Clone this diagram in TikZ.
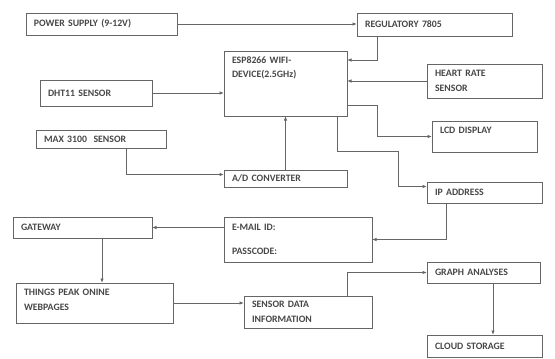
\documentclass[tikz,border=0pt]{standalone}
\usepackage{fontspec}
\setmainfont{Carlito}
\usetikzlibrary{arrows.meta}

\begin{document}
\begin{tikzpicture}
[x=1pt,y=-1pt,
  blockBox/.style={draw=black!60,line width=1pt,rectangle,anchor=north west,
    inner xsep=8pt,inner ysep=4pt,outer sep=0pt,align=left,
    font=\fontsize{9.8}{14.5}\selectfont\bfseries,text=black!72},
  arrowLine/.style={draw=black!60,line width=1pt,-{Latex[length=4.5pt,width=3.5pt]}}]
\useasboundingbox (0,0) rectangle (555,359);
%% blocks
\node (power) at (26,13) [blockBox,minimum width=151pt,minimum height=22pt,text width=135pt] {POWER SUPPLY (9-12V)};
\node (reg) at (357,13) [blockBox,minimum width=155pt,minimum height=23pt,text width=139pt] {REGULATORY 7805};
\node (esp) at (224,51) [blockBox,minimum width=123pt,minimum height=65pt,text width=107pt,text depth=47pt] {ESP8266 WIFI-\\DEVICE(2.5GHz)};
\node (dht) at (40,80) [blockBox,minimum width=112pt,minimum height=26pt,text width=96pt] {DHT11 SENSOR};
\node (heart) at (427,64) [blockBox,minimum width=115pt,minimum height=34pt,text width=99pt] {HEART RATE\\SENSOR};
\node (max) at (36,130) [blockBox,minimum width=130pt,minimum height=18pt,text width=114pt,inner ysep=2pt] {MAX 3100\ \ SENSOR};
\node (adc) at (224,170) [blockBox,minimum width=123pt,minimum height=17pt,text width=107pt,inner ysep=2pt] {A/D CONVERTER};
\node (lcd) at (432,121) [blockBox,minimum width=105pt,minimum height=31pt,text width=89pt,text depth=13pt] {LCD DISPLAY};
\node (ip) at (427,182) [blockBox,minimum width=115pt,minimum height=21pt,text width=99pt] {IP ADDRESS};
\node (gate) at (13,217) [blockBox,minimum width=139pt,minimum height=21pt,text width=123pt] {GATEWAY};
\node (mail) at (224,217) [blockBox,minimum width=148pt,minimum height=45pt,text width=132pt] {E-MAIL ID:\\[9pt]PASSCODE:};
\node (thing) at (16,283) [blockBox,minimum width=157pt,minimum height=40pt,text width=141pt,text depth=21pt] {THINGS PEAK ONINE\\WEBPAGES};
\node (sens) at (244,296) [blockBox,minimum width=128pt,minimum height=32pt,text width=112pt] {SENSOR DATA\\INFORMATION};
\node (graph) at (427,262) [blockBox,minimum width=113pt,minimum height=21pt,text width=97pt] {GRAPH ANALYSES};
\node (cloud) at (427,335) [blockBox,minimum width=115pt,minimum height=22pt,text width=99pt] {CLOUD STORAGE};
%% connectors
\draw[arrowLine] (power.east) -- (power.east -| reg.west);
\draw[arrowLine] ([xshift=20pt]reg.south west) |- ([yshift=-9pt]esp.north east);
\draw[arrowLine] (heart.west) -- (heart.west -| esp.east);
\draw[arrowLine] (dht.east) -- (dht.east -| esp.west);
\draw[arrowLine] (adc.north) -- (esp.south);
\draw[arrowLine] ([xshift=25pt]max.south) |- ([yshift=4pt]adc.west);
\draw[arrowLine] ([yshift=11pt]esp.south east) -- ++(30,0) |- (lcd.west);
\draw[arrowLine] ([xshift=-10pt]esp.south east) |- ++(61,35) |- ([yshift=6pt]ip.west);
\draw[arrowLine] ([xshift=19pt]ip.south west) |- (mail.east);
\draw[arrowLine] (mail.west |- gate.east) -- (gate.east);
\draw[arrowLine] ([xshift=19.5pt]gate.south) coordinate (gateDrop) -- (gateDrop |- thing.north);
\draw[arrowLine] (thing.east) -- (thing.east -| sens.west);
\draw[arrowLine] ([xshift=-25pt]sens.north east) |- (graph.west);
\draw[arrowLine] ([xshift=9.5pt]graph.south) coordinate (graphDrop) -- (graphDrop |- cloud.north);
\end{tikzpicture}
\end{document}
